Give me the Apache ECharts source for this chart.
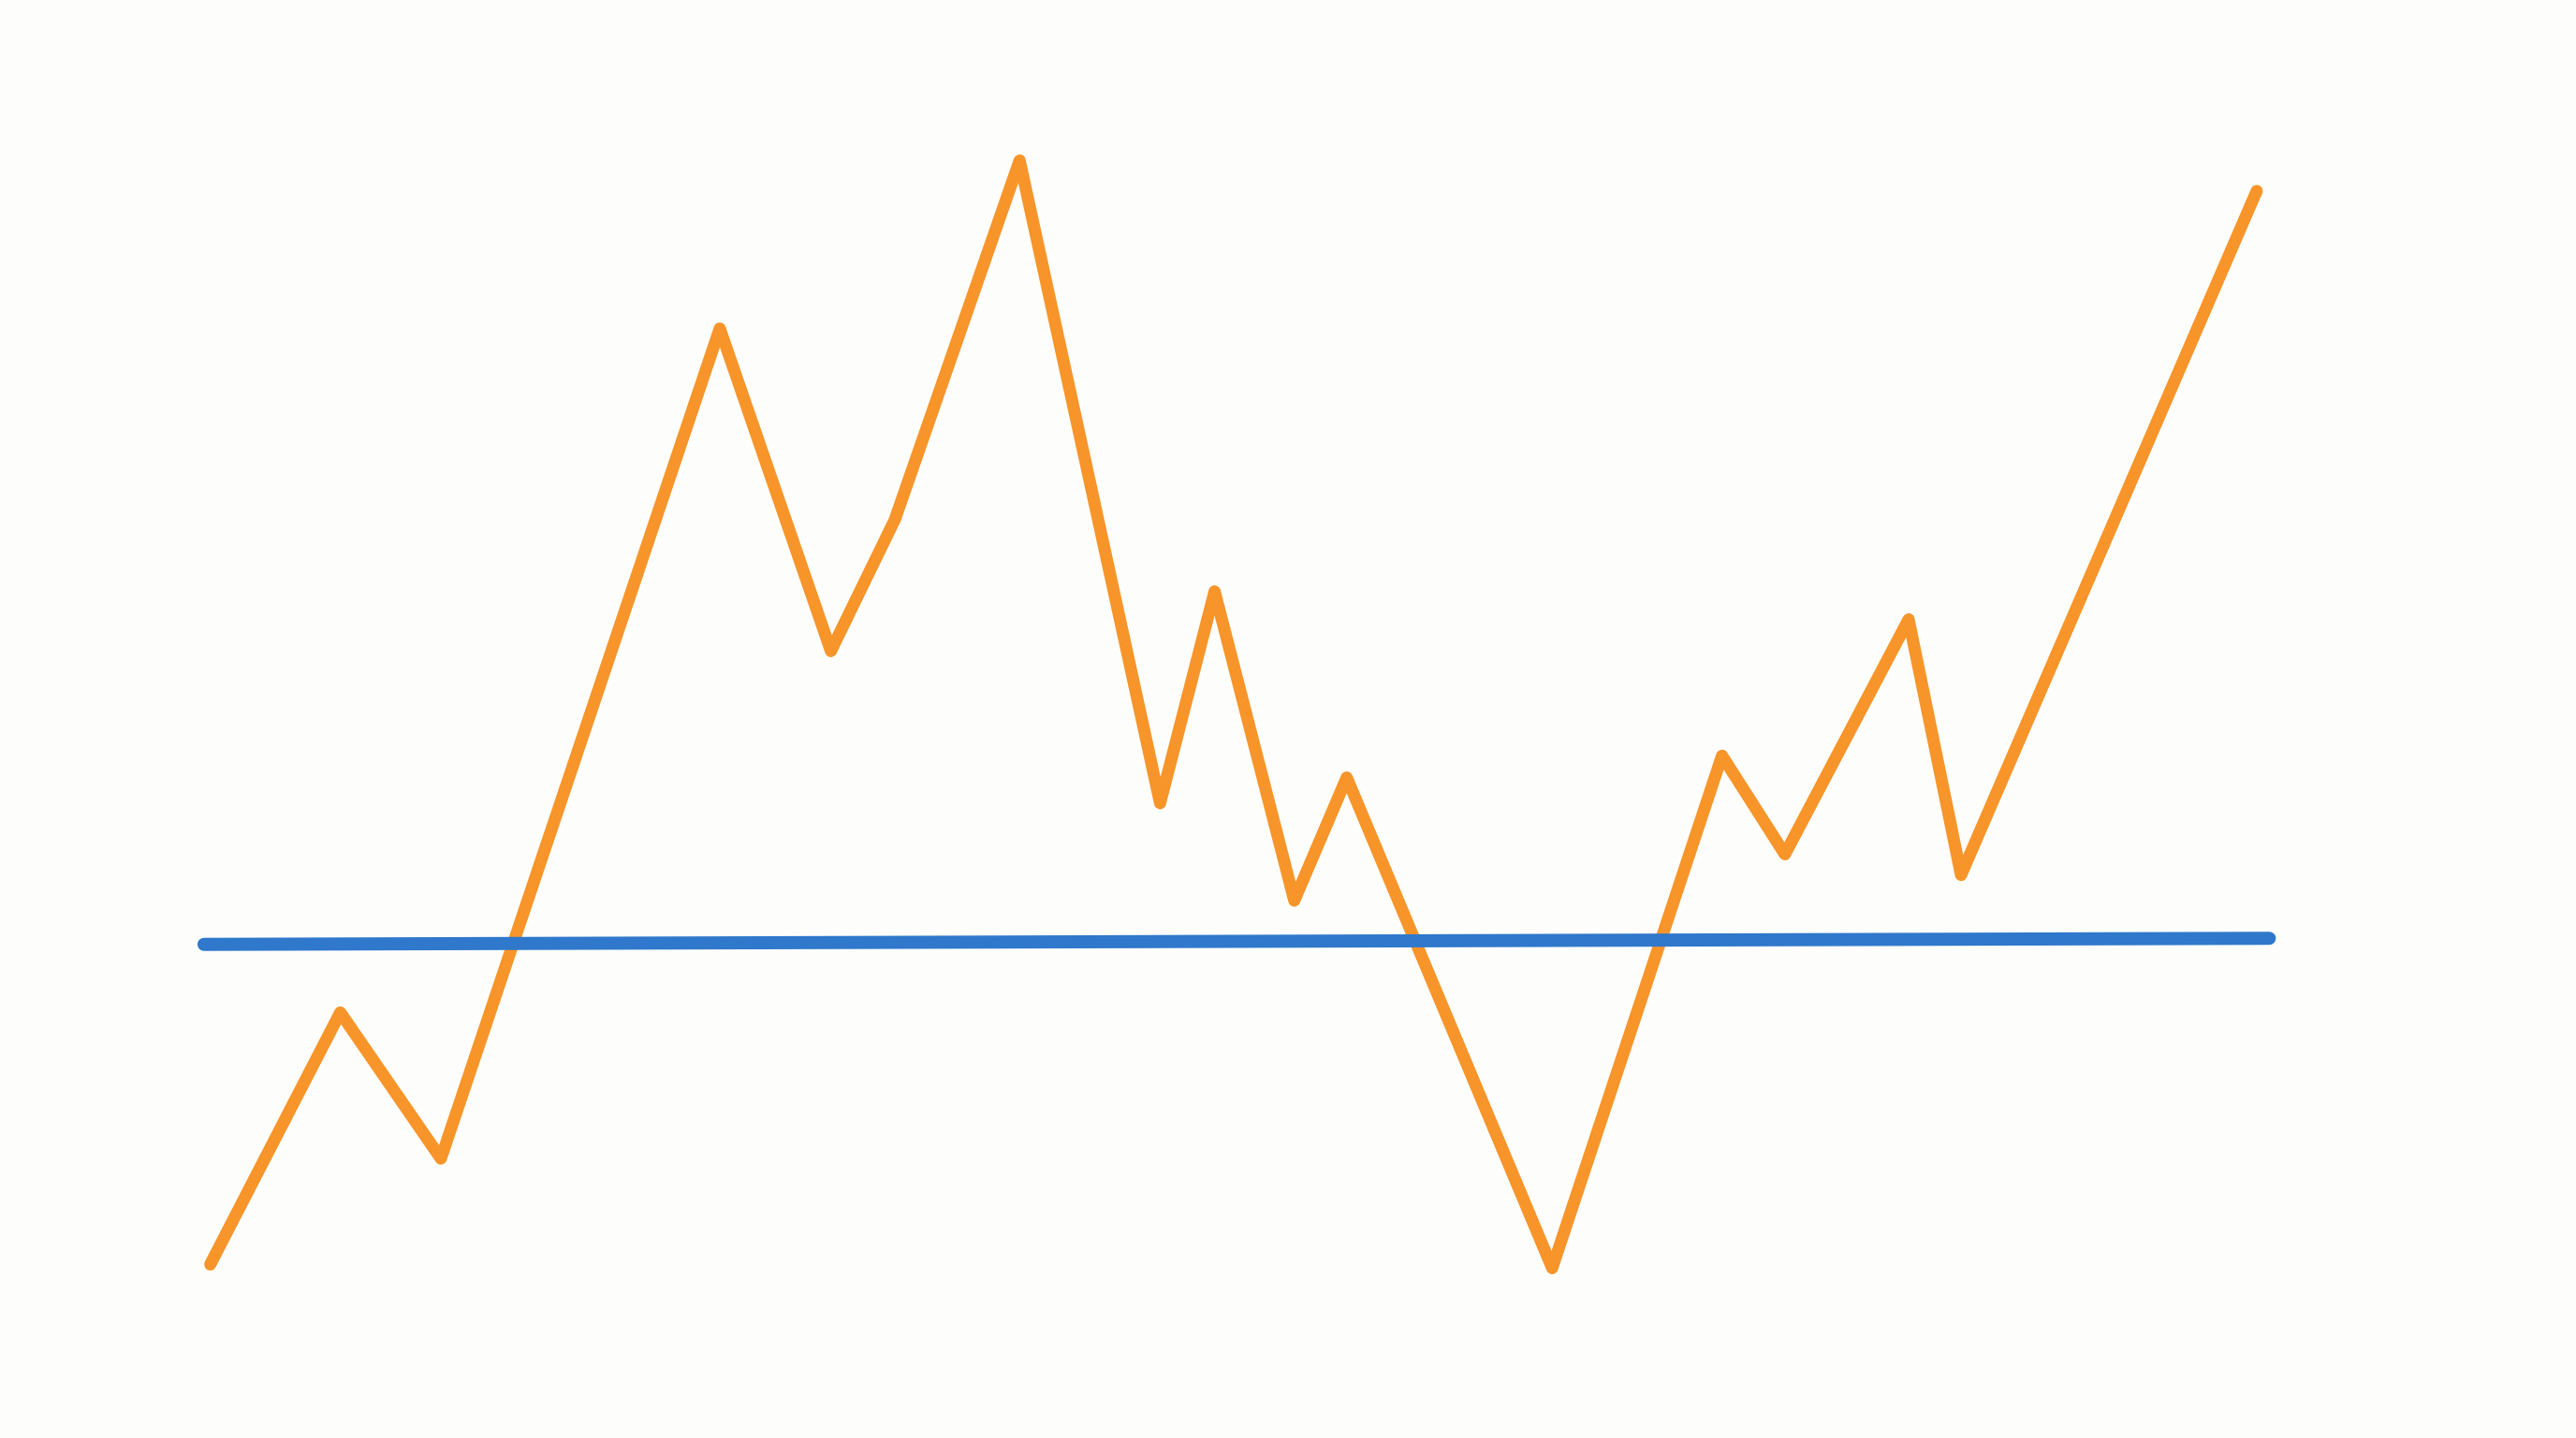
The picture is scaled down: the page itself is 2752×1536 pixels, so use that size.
<!DOCTYPE html>
<html>
<head>
<meta charset="utf-8">
<script src="https://cdn.jsdelivr.net/npm/echarts@6/dist/echarts.min.js"></script>
<style>
  html, body { margin: 0; padding: 0; background: #fdfdfb; }
  #chart { width: 2752px; height: 1536px; }
</style>
</head>
<body>
<div id="chart"></div>
<script>
// Series values (arbitrary units, no axes shown)
const seriesX = [1.1, 7.3, 12.1, 25.4, 30.7, 33.75, 39.7, 46.4, 49.0, 52.8, 55.3, 65.1, 73.2, 76.2, 82.1, 84.6, 98.7];
const seriesY = [3.8, 24.5, 12.5, 80.7, 54.2, 65.0, 94.5, 41.7, 59.1, 33.7, 43.8, 3.5, 45.6, 37.5, 56.8, 35.8, 92.0];
const trendX = [0.8, 99.3];
const trendY = [30.1, 30.6];

const chart = echarts.init(document.getElementById('chart'), null, { renderer: 'canvas' });
chart.setOption({
  backgroundColor: '#fdfdfb',
  animation: false,
  grid: { left: 200, right: 312, top: 100, bottom: 136 },
  xAxis: { type: 'value', min: 0, max: 100, show: false },
  yAxis: { type: 'value', min: 0, max: 100, show: false },
  series: [
    {
      type: 'line',
      data: seriesX.map((x, i) => [x, seriesY[i]]),
      showSymbol: false,
      lineStyle: { color: '#f7952a', width: 13, cap: 'round', join: 'round' },
      z: 2
    },
    {
      type: 'line',
      data: trendX.map((x, i) => [x, trendY[i]]),
      showSymbol: false,
      lineStyle: { color: '#2f78cb', width: 14, cap: 'round', join: 'round' },
      z: 3
    }
  ]
});
</script>
</body>
</html>
